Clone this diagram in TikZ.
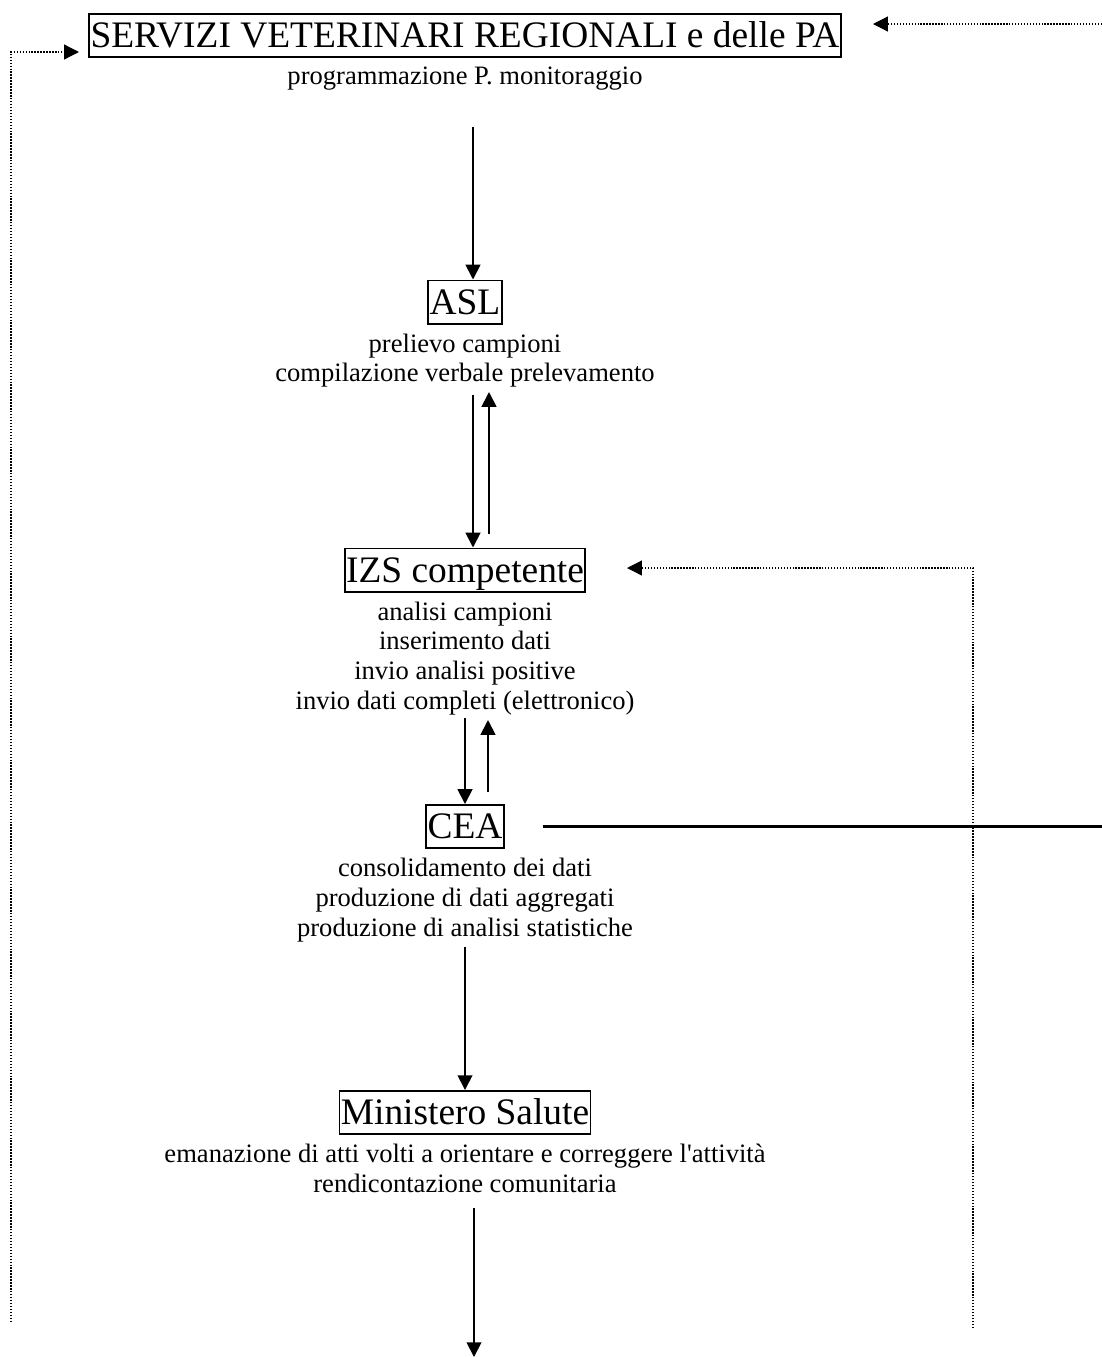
\documentclass[tikz,border=0pt]{standalone}
\usepackage{fontspec}
\setmainfont{Liberation Serif}
\usetikzlibrary{arrows.meta,positioning}
\tikzset{
  ente/.style={draw,line width=1.2pt,inner xsep=1pt,inner ysep=0.5pt,text height=23.6pt,text depth=6.2pt,font=\fontsize{26.6pt}{32pt}\selectfont},
  compiti/.style={align=center,inner sep=0pt,font=\fontsize{18.9pt}{21.3pt}\selectfont},
  freccia/.style={->,line width=1.3pt},
  ritorno/.style={->,line width=0.9pt,dash pattern=on 1pt off 1.1pt},
}
\begin{document}
\begin{tikzpicture}[x=0.025cm,y=-0.025cm,>={Triangle[length=10.5pt,width=10.5pt]}]
    \useasboundingbox (0,0) rectangle (1102,1357);
    % enti e compiti
    \node[ente] (srv) at (465,35.5) {SERVIZI VETERINARI REGIONALI e delle PA};
    \node[compiti,below=0.22cm of srv] (srvtxt) {programmazione P. monitoraggio};
    \node[ente] (asl) at (465,302) {ASL};
    \node[compiti,below=0.22cm of asl] (asltxt) {prelievo campioni\\compilazione verbale prelevamento};
    \node[ente] (izs) at (465,570) {IZS competente};
    \node[compiti,below=0.22cm of izs] (izstxt) {analisi campioni\\inserimento dati\\invio analisi positive\\invio dati completi (elettronico)};
    \node[ente] (cea) at (465,826.5) {CEA};
    \node[compiti,below=0.22cm of cea] (ceatxt) {consolidamento dei dati\\produzione di dati aggregati\\produzione di analisi statistiche};
    \node[ente] (min) at (465,1112.5) {Ministero Salute};
    \node[compiti,below=0.22cm of min] (mintxt) {emanazione di atti volti a orientare e correggere l\textquotesingle attivit\`a\\rendicontazione comunitaria};
    % flusso principale
    \coordinate (a1) at (473,127);
    \draw[freccia] (a1) -- (a1 |- asl.north);
    \coordinate (a2) at (473,395);
    \draw[freccia] (a2) -- (a2 |- izs.north);
    \coordinate (b2) at (489,534);
    \coordinate (b2e) at (489,392);
    \draw[freccia] (b2) -- (b2e);
    \coordinate (a3) at (465,718);
    \draw[freccia] (a3) -- (a3 |- cea.north);
    \coordinate (b3) at (488,792);
    \coordinate (b3e) at (488,720);
    \draw[freccia] (b3) -- (b3e);
    \coordinate (a4) at (465,947);
    \draw[freccia] (a4) -- (a4 |- min.north);
    \coordinate (a5) at (474,1208);
    \coordinate (a5e) at (474,1357);
    \draw[freccia] (a5) -- (a5e);
    % linea dal CEA
    \coordinate (ceaout) at (1102,826.5);
    \draw[line width=1.6pt] ([xshift=0.95cm]cea.east) -- (ceaout);
    % ritorni tratteggiati
    \coordinate (l1) at (11,1322);
    \coordinate (l2) at (79,52);
    \draw[ritorno] (l1) |- (l2);
    \coordinate (r1) at (1102,24);
    \coordinate (r2) at (873,24);
    \draw[ritorno] (r1) -- (r2);
    \coordinate (q1) at (973,1328);
    \coordinate (q2) at (627,568);
    \draw[ritorno] (q1) |- (q2);
\end{tikzpicture}
\end{document}
